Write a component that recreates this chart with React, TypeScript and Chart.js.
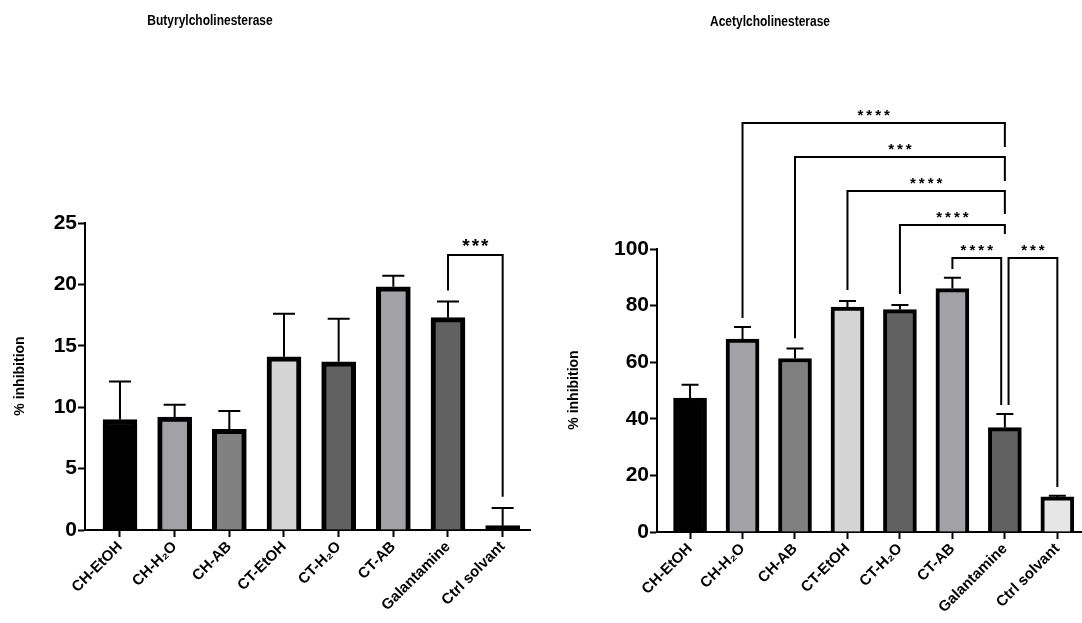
import React, { useEffect, useRef } from 'react';
import { Chart, registerables } from 'chart.js';
Chart.register(...registerables);

const FONT = "'Liberation Sans', Arial, Helvetica, sans-serif";

const categories = ['CH-EtOH', 'CH-H₂O', 'CH-AB', 'CT-EtOH', 'CT-H₂O', 'CT-AB', 'Galantamine', 'Ctrl solvant'];
const bcheColors = ['#000000', '#a2a1a6', '#808080', '#d4d4d4', '#616161', '#a2a1a6', '#616161', '#000000'];
const acheColors = ['#000000', '#a2a1a6', '#808080', '#d4d4d4', '#616161', '#a2a1a6', '#616161', '#e6e6e6'];

// Butyrylcholinesterase
const bcheMean = [9.0, 9.2, 8.2, 14.1, 13.7, 19.8, 17.3, 0.35];
const bcheUpper = [12.1, 10.2, 9.7, 17.6, 17.2, 20.7, 18.6, 1.8];
const bcheTicks = [0, 5, 10, 15, 20, 25];
const bcheBrackets = [
  { from: 6, to: 7, y: 22.4, fromEnd: 19.5, toEnd: 2.7, label: '***' },
];

// Acetylcholinesterase
const acheMean = [47.3, 68.2, 61.3, 79.5, 78.6, 86.0, 36.9, 12.4];
const acheUpper = [52.0, 72.4, 64.8, 81.6, 80.2, 89.8, 41.7, 12.8];
const acheTicks = [0, 20, 40, 60, 80, 100];
const acheBrackets = [
  { from: 1, to: 6, y: 144.5, fromEnd: 75.6, toEnd: 136, label: '****' },
  { from: 2, to: 6, y: 132.5, fromEnd: 68.5, toEnd: 124, label: '***' },
  { from: 3, to: 6, y: 120.5, fromEnd: 85.5, toEnd: 112.4, label: '****' },
  { from: 4, to: 6, y: 108.5, fromEnd: 84.1, toEnd: 105.3, label: '****' },
  { from: 5, to: 5.93, y: 96.8, fromEnd: 92.9, toEnd: 44.9, label: '****' },
  { from: 6.07, to: 7, y: 96.8, fromEnd: 44.9, toEnd: 15.9, label: '***' },
];

const annotPlugin = {
  id: 'annot',
  afterDatasetsDraw(chart: any, _args: any, o: any) {
    const ctx = chart.ctx;
    const xs = chart.scales.x;
    const ys = chart.scales.y;
    const meta = chart.getDatasetMeta(0);
    ctx.save();
    ctx.strokeStyle = '#000';
    ctx.lineWidth = o.errWidth;
    ctx.lineCap = 'butt';
    o.upper.forEach((u: number, i: number) => {
      const bx = meta.data[i].x;
      const y0 = ys.getPixelForValue(o.mean[i]);
      const y1 = ys.getPixelForValue(u);
      ctx.beginPath();
      ctx.moveTo(bx, y0);
      ctx.lineTo(bx, y1);
      ctx.moveTo(bx - o.cap / 2, y1);
      ctx.lineTo(bx + o.cap / 2, y1);
      ctx.stroke();
    });
    ctx.lineWidth = o.bracketWidth;
    o.brackets.forEach((b: any) => {
      const x0 = xs.getPixelForValue(b.from);
      const x1 = xs.getPixelForValue(b.to);
      const yy = ys.getPixelForValue(b.y);
      ctx.beginPath();
      ctx.moveTo(x0, ys.getPixelForValue(b.fromEnd));
      ctx.lineTo(x0, yy);
      ctx.lineTo(x1, yy);
      ctx.lineTo(x1, ys.getPixelForValue(b.toEnd));
      ctx.stroke();
      ctx.fillStyle = '#000';
      ctx.font = `bold ${o.starSize}px ${FONT}`;
      (ctx as any).letterSpacing = o.starSpacing + 'px';
      ctx.textAlign = 'center';
      ctx.textBaseline = 'alphabetic';
      ctx.fillText(b.label, (x0 + x1) / 2 + o.starSpacing / 2, yy - o.starGap);
      (ctx as any).letterSpacing = '0px';
    });
    ctx.restore();
  },
  afterDraw(chart: any, _args: any, o: any) {
    const ctx = chart.ctx;
    ctx.save();
    ctx.fillStyle = '#000';
    ctx.font = `bold 15px ${FONT}`;
    ctx.textAlign = 'center';
    ctx.textBaseline = 'middle';
    ctx.save();
    ctx.translate(o.titleX, o.titleY);
    ctx.scale(0.8, 1);
    ctx.fillText(o.title, 0, 0);
    ctx.restore();
    ctx.translate(o.yTitleX, o.yTitleY);
    ctx.rotate(-Math.PI / 2);
    ctx.font = `bold 14px ${FONT}`;
    ctx.fillText('% inhibition', 0, 0);
    ctx.restore();
  },
};

function buildConfig(p: any) {
  return {
    type: 'bar',
    data: {
      datasets: [
        {
          data: p.mean.map((v: number, i: number) => ({ x: i, y: v })),
          backgroundColor: p.colors,
          borderColor: '#000',
          borderWidth: p.border,
          borderSkipped: 'start',
          barThickness: p.barW,
        },
      ],
    },
    options: {
      animation: false,
      responsive: false,
      layout: { padding: { left: 0, right: p.padRight, top: p.padTop, bottom: 0 } },
      plugins: {
        legend: { display: false },
        tooltip: { enabled: false },
        title: { display: false },
        annot: {
          mean: p.mean,
          upper: p.upper,
          brackets: p.brackets,
          cap: p.cap,
          errWidth: 2,
          bracketWidth: 2,
          starSize: p.starSize,
          starSpacing: p.starSpacing,
          starGap: p.starGap,
          title: p.title,
          titleX: p.titleX,
          titleY: p.titleY,
          yTitleX: p.yTitleX,
          yTitleY: p.yTitleY,
        },
      },
      scales: {
        x: {
          type: 'linear',
          offset: false,
          min: p.xMin,
          max: p.xMax,
          afterBuildTicks: (axis: any) => {
            axis.ticks = categories.map((_c, i) => ({ value: i }));
          },
          afterFit: (scale: any) => {
            scale.height = p.xAxisH;
          },
          grid: {
            display: true,
            offset: false,
            drawOnChartArea: false,
            drawTicks: true,
            tickLength: 7,
            tickWidth: 2,
            tickColor: '#000',
          },
          border: { display: true, color: '#000', width: 2 },
          ticks: {
            autoSkip: false,
            maxRotation: 45,
            minRotation: 45,
            padding: 1,
            color: '#000',
            font: { family: FONT, size: 15, weight: 'bold' },
            callback: (v: number) => categories[v] ?? '',
          },
        },
        y: {
          min: 0,
          max: p.yTicks[p.yTicks.length - 1],
          afterBuildTicks: (axis: any) => {
            axis.ticks = p.yTicks.map((v: number) => ({ value: v }));
          },
          afterFit: (scale: any) => {
            scale.width = p.yAxisW;
          },
          grid: {
            display: true,
            drawOnChartArea: false,
            drawTicks: true,
            tickLength: 7,
            tickWidth: 2,
            tickColor: '#000',
          },
          border: { display: true, color: '#000', width: 2 },
          ticks: {
            padding: 1,
            color: '#000',
            font: { family: FONT, size: 21, weight: 'bold' },
          },
        },
      },
    },
    plugins: [annotPlugin],
  } as any;
}

function BarPanel(props: any) {
  const ref = useRef<HTMLCanvasElement | null>(null);
  useEffect(() => {
    if (!ref.current) return;
    const chart = new Chart(ref.current, buildConfig(props.cfg));
    return () => chart.destroy();
  }, []);
  return (
    <canvas
      ref={ref}
      width={props.w}
      height={623}
      style={{ position: 'absolute', left: props.left, top: 0, width: props.w, height: 623 }}
    />
  );
}

export default function App() {
  useEffect(() => {
    document.body.style.margin = '0';
    document.body.style.background = '#fff';
  }, []);
  const leftCfg = {
    mean: bcheMean,
    upper: bcheUpper,
    brackets: bcheBrackets,
    yTicks: bcheTicks,
    colors: bcheColors,
    border: 5,
    barW: 34,
    cap: 22,
    starSize: 19,
    starSpacing: 2,
    starGap: 3,
    padRight: 10,
    padTop: 223,
    xAxisH: 93,
    yAxisW: 85,
    xMin: -0.64,
    xMax: 7.5,
    title: 'Butyrylcholinesterase',
    titleX: 210,
    titleY: 21,
    yTitleX: 20,
    yTitleY: 376,
  };
  const rightCfg = {
    mean: acheMean,
    upper: acheUpper,
    brackets: acheBrackets,
    yTicks: acheTicks,
    colors: acheColors,
    border: 4,
    barW: 33,
    cap: 17,
    starSize: 15,
    starSpacing: 3,
    starGap: 3,
    padRight: 0,
    padTop: 249,
    xAxisH: 91,
    yAxisW: 117,
    xMin: -0.63,
    xMax: 7.47,
    title: 'Acetylcholinesterase',
    titleX: 230,
    titleY: 22,
    yTitleX: 34,
    yTitleY: 390,
  };
  return (
    <div style={{ position: 'absolute', left: 0, top: 0, width: 1082, height: 623, background: '#fff', overflow: 'hidden' }}>
      <BarPanel cfg={leftCfg} w={540} left={0} />
      <BarPanel cfg={rightCfg} w={542} left={540} />
    </div>
  );
}
